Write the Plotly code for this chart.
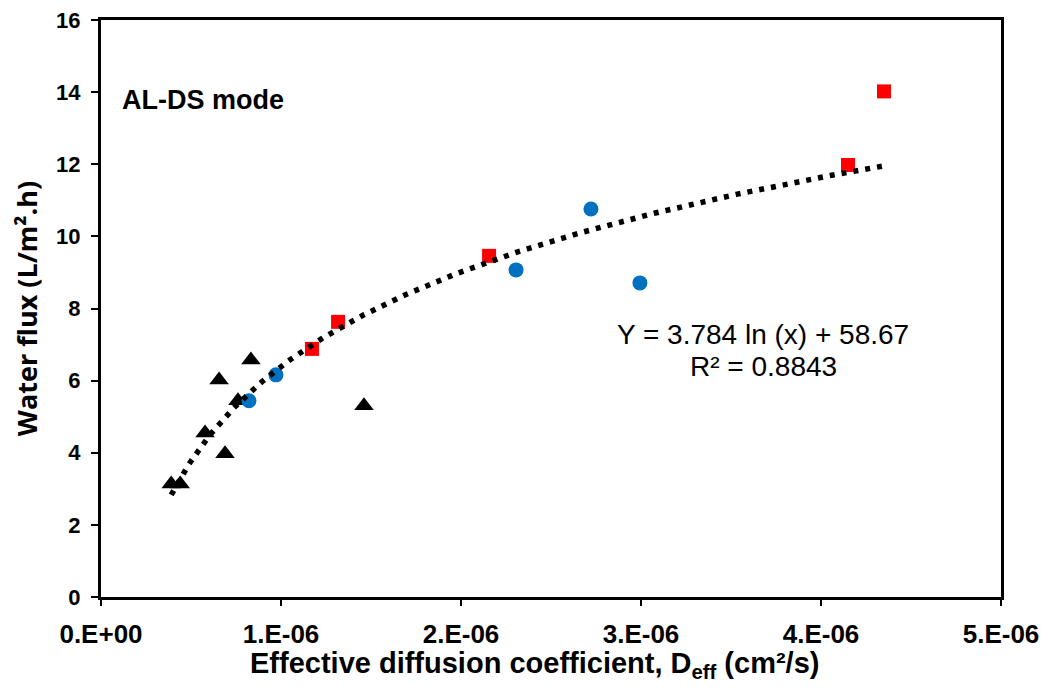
import numpy as np
import plotly.graph_objects as go

# Data (D_eff in cm2/s, water flux in L/m2.h)
tri_x = [0.39e-6, 0.44e-6, 0.578e-6, 0.656e-6, 0.689e-6, 0.761e-6, 0.833e-6, 1.461e-6]
tri_y = [3.13, 3.13, 4.55, 6.02, 3.97, 5.44, 6.57, 5.30]

circ_x = [0.822e-6, 0.972e-6, 2.306e-6, 2.722e-6, 2.994e-6]
circ_y = [5.44, 6.16, 9.07, 10.76, 8.71]

sq_x = [1.172e-6, 1.317e-6, 2.156e-6, 4.150e-6, 4.35e-6]
sq_y = [6.88, 7.63, 9.46, 11.98, 14.02]

# Logarithmic trendline coefficients as reported on the chart
fit_a = 3.784
fit_b = 58.67
fit_r2 = 0.8843
fit_xmin = 0.39e-6
fit_xmax = 4.35e-6

x_tickvals = [0, 1e-6, 2e-6, 3e-6, 4e-6, 5e-6]
x_ticktext = ["0.E+00", "1.E-06", "2.E-06", "3.E-06", "4.E-06", "5.E-06"]
y_tickvals = [0, 2, 4, 6, 8, 10, 12, 14, 16]

fx = np.linspace(fit_xmin, fit_xmax, 300)
fy = fit_a * np.log(fx) + fit_b

fig = go.Figure()
fig.add_trace(go.Scatter(x=tri_x, y=tri_y, mode="markers",
                         marker=dict(symbol="triangle-up", size=17, color="black"),
                         showlegend=False))
fig.add_trace(go.Scatter(x=circ_x, y=circ_y, mode="markers",
                         marker=dict(symbol="circle", size=15, color="#0070C0"),
                         showlegend=False))
fig.add_trace(go.Scatter(x=sq_x, y=sq_y, mode="markers",
                         marker=dict(symbol="square", size=14, color="#FF0000"),
                         showlegend=False))
fig.add_trace(go.Scatter(x=fx, y=fy, mode="lines",
                         line=dict(color="black", width=5.5, dash="5px,7px"),
                         showlegend=False))

axis_common = dict(showline=True, linecolor="black", linewidth=3, mirror=True,
                   ticks="outside", tickcolor="black", tickwidth=2,
                   showgrid=False, zeroline=False, automargin=False,
                   ticklabeloverflow="allow")

# The page body adds an 8px offset; margins compensate so the plot area
# lands at x 101..1001, y 20..597 in the 1048x689 window.
fig.update_layout(
    width=1040, height=681,
    margin=dict(l=93, r=47, t=12, b=92),
    paper_bgcolor="white", plot_bgcolor="white",
    xaxis=dict(range=[0, 5e-6], tickvals=x_tickvals, ticktext=x_ticktext,
               ticklen=6, ticklabelstandoff=6,
               tickfont=dict(family="Liberation Sans, Arial", size=26, color="black", weight="bold"),
               **axis_common),
    yaxis=dict(range=[0, 16], tickvals=y_tickvals, ticklen=7, ticklabelstandoff=6,
               tickfont=dict(family="Liberation Sans, Arial", size=22, color="black", weight="bold"),
               title=dict(text="<b>Water flux (L/m².h)</b>",
                          font=dict(family="Open Sans, Liberation Sans, Arial", size=27, color="black"),
                          standoff=12),
               **axis_common),
    font=dict(family="Liberation Sans, Arial", color="black"),
)

fig.add_annotation(x=0.482, y=-0.118, xref="paper", yref="paper", xanchor="center", yanchor="middle",
                   text="<b>Effective diffusion coefficient, D<sub>eff</sub> (cm²/s)</b>", showarrow=False,
                   font=dict(family="Liberation Sans, Arial", size=29, color="black"))
fig.add_annotation(x=0.021, y=0.861, xref="paper", yref="paper", xanchor="left", yanchor="middle",
                   text="<b>AL-DS mode</b>", showarrow=False,
                   font=dict(family="Liberation Sans, Arial", size=27, color="black"))
fig.add_annotation(x=0.7356, y=0.4558, xref="paper", yref="paper", xanchor="center", yanchor="middle",
                   text=f"Y = {fit_a} ln (x) + {fit_b}", showarrow=False,
                   font=dict(family="Liberation Sans, Arial", size=28, color="black"))
fig.add_annotation(x=0.7356, y=0.4003, xref="paper", yref="paper", xanchor="center", yanchor="middle",
                   text=f"R² = {fit_r2}", showarrow=False,
                   font=dict(family="Liberation Sans, Arial", size=28, color="black"))

fig.write_html("out.html")
